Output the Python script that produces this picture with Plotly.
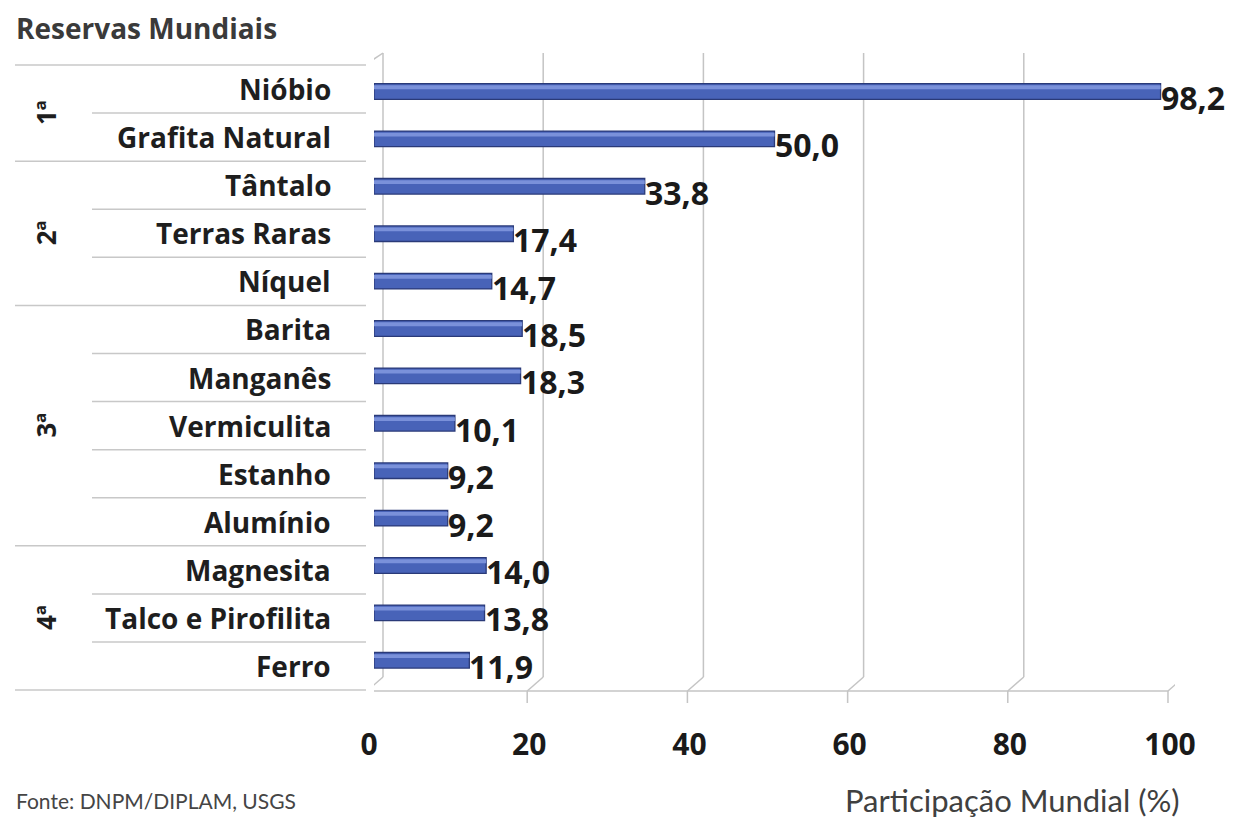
import plotly.graph_objects as go

# ---------------- data ----------------
categories = ["Nióbio", "Grafita Natural", "Tântalo", "Terras Raras", "Níquel",
              "Barita", "Manganês", "Vermiculita", "Estanho", "Alumínio",
              "Magnesita", "Talco e Pirofilita", "Ferro"]
values = [98.2, 50.0, 33.8, 17.4, 14.7, 18.5, 18.3, 10.1, 9.2, 9.2, 14.0, 13.8, 11.9]
groups = ["1ª", "2ª", "3ª", "4ª"]
group_sizes = [2, 3, 5, 3]
x_ticks = [0, 20, 40, 60, 80, 100]
title_text = "Reservas Mundiais"
source_text = "Fonte: DNPM/DIPLAM, USGS"
axis_title = "Participação Mundial (%)"

# ---------------- layout geometry (target page pixels) ----------------
W, H = 1238, 824
OFF = 8                                       # page body margin
PL, PR, PT, PB = 374, 1175, 62, 684          # plot area on page
PW, PHt = PR - PL, PB - PT
UNIT = PW / 100.0                             # px per x unit


def px_x(X):
    return (X - PL) / PW


def px_y(Y):
    return (PB - Y) / PHt


FONT = "Lato"
BFONT = "Open Sans"

fig = go.Figure()

fig.add_trace(go.Bar(
    x=values, y=categories, orientation="h", width=0.33,
    marker=dict(color="#4863B8", line=dict(color="#2A3A78", width=1.3)),
    hoverinfo="x+y", showlegend=False,
))
fig.add_trace(go.Bar(
    x=values, y=categories, orientation="h", width=0.08, offset=-0.13,
    marker=dict(color="#7A91DA", line=dict(width=0)),
    hoverinfo="skip", showlegend=False,
))

shapes = []
grid_col = "#C4C4C4"
back_dx = 9 / UNIT
front_dx = -7 / UNIT
y_top_back = px_y(53)
y_kink = px_y(677)
y_floor = px_y(691)
y_tick = px_y(703)
for v in x_ticks:
    shapes.append(dict(type="line", xref="x", yref="paper",
                       x0=v + back_dx, x1=v + back_dx, y0=y_top_back, y1=y_kink,
                       line=dict(color=grid_col, width=1.5), layer="below"))
    shapes.append(dict(type="line", xref="x", yref="paper",
                       x0=v + back_dx, x1=v + front_dx, y0=y_kink, y1=y_floor,
                       line=dict(color=grid_col, width=1.5), layer="below"))
    shapes.append(dict(type="line", xref="x", yref="paper",
                       x0=v + front_dx, x1=v + front_dx, y0=y_floor, y1=y_tick,
                       line=dict(color=grid_col, width=1.5), layer="below"))
shapes.append(dict(type="line", xref="x", yref="paper",
                   x0=x_ticks[0] + front_dx, x1=x_ticks[-1] + front_dx, y0=y_floor, y1=y_floor,
                   line=dict(color=grid_col, width=1.5), layer="below"))
shapes.append(dict(type="line", xref="x", yref="paper",
                   x0=x_ticks[0] + front_dx - 2 / UNIT, x1=x_ticks[0] + front_dx - 2 / UNIT,
                   y0=px_y(65), y1=y_floor,
                   line=dict(color=grid_col, width=1.5), layer="below"))
shapes.append(dict(type="line", xref="x", yref="paper",
                   x0=x_ticks[0] + front_dx - 2 / UNIT, x1=x_ticks[0] + back_dx,
                   y0=px_y(65), y1=y_top_back,
                   line=dict(color=grid_col, width=1.5), layer="below"))

# left separator lines
LINE_TOP, LINE_STEP = 65, 48.08
boundaries = [0]
for s in group_sizes:
    boundaries.append(boundaries[-1] + s)
for k in range(len(categories) + 1):
    Y = LINE_TOP + k * LINE_STEP
    x0 = 15 if k in boundaries else 92
    shapes.append(dict(type="line", xref="paper", yref="paper",
                       x0=px_x(x0), x1=px_x(366), y0=px_y(Y), y1=px_y(Y),
                       line=dict(color="#C8C8C8", width=1.5)))

annotations = []
for i, c in enumerate(categories):
    Y = LINE_TOP + (i + 0.5) * LINE_STEP
    annotations.append(dict(text=c, xref="paper", yref="paper", x=px_x(333), y=px_y(Y),
                            xanchor="right", yanchor="middle", showarrow=False,
                            font=dict(family=BFONT, size=28, color="#1E1E1E", weight="bold")))
for g, k0, k1 in zip(groups, boundaries[:-1], boundaries[1:]):
    Y = LINE_TOP + (k0 + k1) / 2 * LINE_STEP
    annotations.append(dict(text=g, xref="paper", yref="paper", x=px_x(46), y=px_y(Y),
                            xanchor="center", yanchor="middle", showarrow=False, textangle=-90,
                            font=dict(family=BFONT, size=26, color="#1E1E1E", weight="bold")))
for c, v in zip(categories, values):
    annotations.append(dict(text=f"{v:.1f}".replace(".", ","), x=v, y=c, xref="x", yref="y",
                            xanchor="left", yanchor="middle", xshift=-2, yshift=-6,
                            showarrow=False,
                            font=dict(family=BFONT, size=32, color="#1A1A1A", weight="bold")))
annotations.append(dict(text=title_text, xref="paper", yref="paper", x=px_x(14), y=px_y(28),
                        xanchor="left", yanchor="middle", showarrow=False,
                        font=dict(family=BFONT, size=28, color="#3A3A3A", weight="bold")))
annotations.append(dict(text=source_text, xref="paper", yref="paper", x=px_x(14), y=px_y(800),
                        xanchor="left", yanchor="middle", showarrow=False,
                        font=dict(family=FONT, size=21, color="#454545")))
annotations.append(dict(text=axis_title, xref="paper", yref="paper", x=px_x(1182), y=px_y(800),
                        xanchor="right", yanchor="middle", showarrow=False,
                        font=dict(family=FONT, size=31, color="#404040")))

fig.update_layout(
    width=W, height=H,
    margin=dict(l=PL - OFF, r=W - (PR - OFF), t=PT - OFF, b=H - (PB - OFF), pad=0),
    paper_bgcolor="white", plot_bgcolor="white",
    barmode="overlay",
    shapes=shapes, annotations=annotations,
    xaxis=dict(range=[0, 100], tickvals=x_ticks, ticktext=[str(t) for t in x_ticks],
               showgrid=False, zeroline=False, showline=False, ticks="",
               tickfont=dict(family=BFONT, size=30, color="#1A1A1A", weight="bold"),
               ticklabelstandoff=40, ticklabelshift=-5, fixedrange=True),
    yaxis=dict(categoryorder="array", categoryarray=categories, autorange="reversed",
               showticklabels=False, showgrid=False, zeroline=False, showline=False,
               ticks="", fixedrange=True),
)

fig.write_html("out.html")
